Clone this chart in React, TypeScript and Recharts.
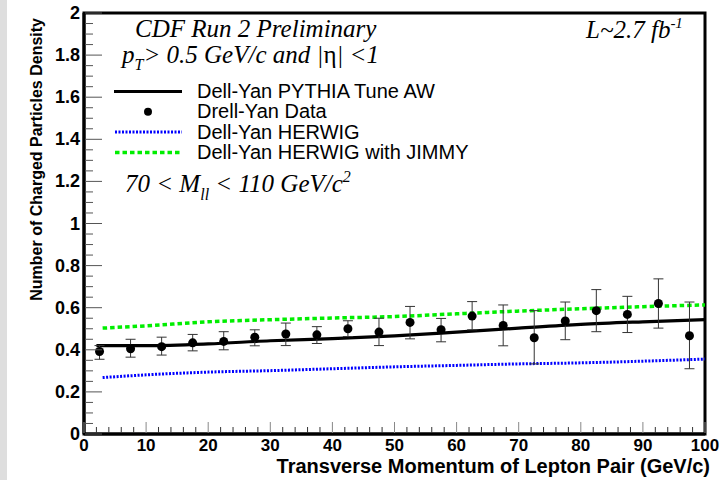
import { ComposedChart, Line, Scatter, ErrorBar, XAxis, YAxis, ReferenceArea } from "recharts";

// Drell-Yan data (bin centres, value, error bar ends)
const binCenters = [2.5, 7.5, 12.5, 17.5, 22.5, 27.5, 32.5, 37.5, 42.5, 47.5, 52.5, 57.5, 62.5, 67.5, 72.5, 77.5, 82.5, 87.5, 92.5, 97.5];
const dataValues = [0.392, 0.405, 0.415, 0.433, 0.44, 0.46, 0.475, 0.471, 0.5, 0.484, 0.53, 0.495, 0.56, 0.516, 0.457, 0.537, 0.586, 0.568, 0.62, 0.467];
const errHigh = [0.42, 0.45, 0.46, 0.473, 0.486, 0.495, 0.527, 0.51, 0.538, 0.55, 0.606, 0.549, 0.629, 0.613, 0.586, 0.627, 0.686, 0.654, 0.737, 0.627];
const errLow = [0.355, 0.365, 0.375, 0.395, 0.4, 0.419, 0.42, 0.43, 0.463, 0.42, 0.452, 0.438, 0.495, 0.419, 0.333, 0.448, 0.486, 0.482, 0.503, 0.31];

// MC curves
const pythiaX = [2, 10, 20, 30, 40, 50, 60, 70, 80, 90, 100];
const pythiaY = [0.42, 0.42, 0.428, 0.443, 0.453, 0.466, 0.484, 0.503, 0.521, 0.533, 0.543];
const herwigX = [3, 10, 20, 30, 40, 50, 60, 70, 80, 90, 100];
const herwigY = [0.268, 0.281, 0.294, 0.301, 0.31, 0.319, 0.326, 0.333, 0.338, 0.346, 0.356];
const jimmyY = [0.503, 0.514, 0.533, 0.543, 0.551, 0.558, 0.571, 0.584, 0.595, 0.605, 0.613];

const majorX = [0, 10, 20, 30, 40, 50, 60, 70, 80, 90, 100];
const majorY = [0, 0.2, 0.4, 0.6, 0.8, 1, 1.2, 1.4, 1.6, 1.8, 2];
const yLabels = ["0", "0.2", "0.4", "0.6", "0.8", "1", "1.2", "1.4", "1.6", "1.8", "2"];

const xTicks = Array.from({ length: 51 }, (_, i) => i * 2);
const yTicks = Array.from({ length: 41 }, (_, i) => Math.round(i * 5) / 100);

const points = binCenters.map((x, i) => ({
  x,
  y: dataValues[i],
  err: [dataValues[i] - errLow[i], errHigh[i] - dataValues[i]],
}));
const pythia = pythiaX.map((x, i) => ({ x, y: pythiaY[i] }));
const herwig = herwigX.map((x, i) => ({ x, y: herwigY[i] }));
const jimmy = herwigX.map((x, i) => ({ x, y: jimmyY[i] }));

const SANS = "'Liberation Sans', Arial, sans-serif";
const SERIF = "'Liberation Serif', 'Times New Roman', serif";

const XTick = (props: any) => {
  const { x, y, payload } = props;
  const major = majorX.includes(payload.value);
  return (
    <g>
      <line x1={x} x2={x} y1={y - 1} y2={y - (major ? 12 : 7)} stroke={major ? "#888" : "#333"} strokeWidth={1} />
      {major && (
        <text x={x} y={y + 17} textAnchor="middle" fontSize={17} fontWeight="bold" fontFamily={SANS} fill="#000">
          {payload.value}
        </text>
      )}
    </g>
  );
};

const YTick = (props: any) => {
  const { x, y, payload } = props;
  const idx = majorY.findIndex((v) => Math.abs(v - payload.value) < 1e-6);
  const major = idx >= 0;
  return (
    <g>
      <line x1={x + 1} x2={x + (major ? 18 : 9)} y1={y} y2={y} stroke="#555" strokeWidth={1} />
      {major && (
        <text x={x - 4} y={y + 6} textAnchor="end" fontSize={18} fontWeight="bold" fontFamily={SANS} fill="#000">
          {yLabels[idx]}
        </text>
      )}
    </g>
  );
};

const Dot = (props: any) => <circle cx={props.cx} cy={props.cy} r={4.5} fill="#000" />;

const legendRows = [
  { label: "Dell-Yan PYTHIA Tune AW", kind: "solid" },
  { label: "Drell-Yan Data", kind: "dot" },
  { label: "Dell-Yan HERWIG", kind: "blue" },
  { label: "Dell-Yan HERWIG with JIMMY", kind: "green" },
];

export default function App() {
  return (
    <div style={{ position: "absolute", left: 0, top: 0, width: 727, height: 480, overflow: "hidden", background: "#fff" }}>
      <div style={{ position: "absolute", left: 0, top: 0, width: 7, height: 480, background: "#dedede" }} />
      <ComposedChart width={727} height={480} margin={{ top: 13, right: 22, left: 0, bottom: 0 }}>
        <XAxis
          dataKey="x"
          type="number"
          domain={[0, 100]}
          ticks={xTicks}
          interval={0}
          height={46}
          tickSize={0}
          tickMargin={0}
          tickLine={false}
          tick={<XTick />}
          axisLine={{ stroke: "#000", strokeWidth: 3 }}
          allowDataOverflow
        />
        <YAxis
          type="number"
          domain={[0, 2]}
          ticks={yTicks}
          interval={0}
          width={84}
          tickSize={0}
          tickMargin={0}
          tickLine={false}
          tick={<YTick />}
          axisLine={{ stroke: "#000", strokeWidth: 3 }}
          allowDataOverflow
        />
        <ReferenceArea x1={0} x2={100} y1={0} y2={2} fill="none" stroke="#000" strokeWidth={3} />
        <Line data={herwig} dataKey="y" type="monotone" stroke="#0000ff" strokeWidth={3} strokeDasharray="2 1.5" dot={false} isAnimationActive={false} />
        <Line data={jimmy} dataKey="y" type="monotone" stroke="#00ee00" strokeWidth={3.5} strokeDasharray="4.5 3" dot={false} isAnimationActive={false} />
        <Line data={pythia} dataKey="y" type="monotone" stroke="#000" strokeWidth={3.2} dot={false} isAnimationActive={false} />
        <Scatter data={points} dataKey="y" shape={<Dot />} isAnimationActive={false}>
          <ErrorBar dataKey="err" direction="y" width={5} stroke="#333" strokeWidth={1} />
        </Scatter>
      </ComposedChart>
      <svg width={727} height={480} style={{ position: "absolute", left: 0, top: 0, pointerEvents: "none" }}>
        <g fontFamily={SERIF} fontStyle="italic" fill="#000" fontSize={25} style={{ whiteSpace: "pre" }}>
          <text x={135} y={37}>CDF Run 2 Preliminary</text>
          <text x={586} y={38}>
            L~2.7 fb<tspan dy={-10} fontSize={15}>-1</tspan>
          </text>
          <text x={122} y={63}>
            p<tspan dy={7} fontSize={16}>T</tspan>
            <tspan dy={-7}>{"> 0.5  GeV/c and |"}</tspan>
            <tspan fontStyle="normal">η</tspan>
            <tspan>{"| <1"}</tspan>
          </text>
          <text x={125} y={192}>
            {"70 < M"}<tspan dy={8} fontSize={16}>ll</tspan>
            <tspan dy={-8}>{" < 110 GeV/c"}</tspan>
            <tspan dy={-10} fontSize={16}>2</tspan>
          </text>
        </g>
        {legendRows.map((r, i) => {
          const cy = 91.5 + i * 20.3;
          return (
            <g key={r.label}>
              {r.kind === "solid" && <line x1={114} x2={182} y1={cy} y2={cy} stroke="#000" strokeWidth={3} />}
              {r.kind === "dot" && <circle cx={148} cy={cy} r={4} fill="#000" />}
              {r.kind === "blue" && <line x1={115} x2={182} y1={cy} y2={cy} stroke="#0000ff" strokeWidth={3} strokeDasharray="2 1.5" />}
              {r.kind === "green" && <line x1={115} x2={182} y1={cy} y2={cy} stroke="#00ee00" strokeWidth={3.5} strokeDasharray="4.5 3" />}
              <text x={197} y={cy + 6.5} fontSize={20} fontFamily={SANS} fill="#000">{r.label}</text>
            </g>
          );
        })}
        <text x={710} y={473} textAnchor="end" fontSize={20} fontWeight="bold" fontFamily={SANS} fill="#000">
          Transverse Momentum of Lepton Pair (GeV/c)
        </text>
        <text transform="translate(42, 18) rotate(-90)" textAnchor="end" fontSize={16} fontWeight="bold" fontFamily={SANS} fill="#000">
          Number of Charged Particles Density
        </text>
      </svg>
    </div>
  );
}
